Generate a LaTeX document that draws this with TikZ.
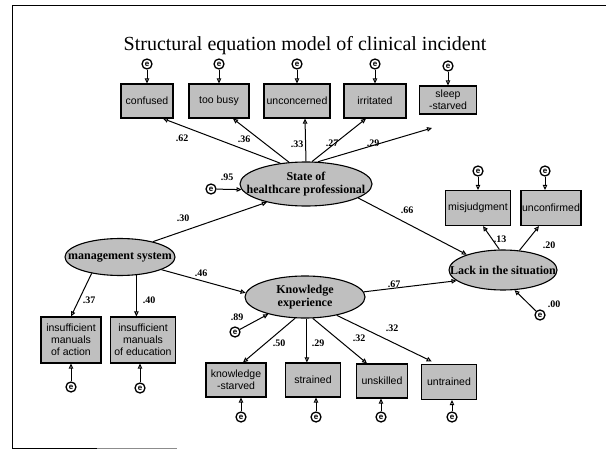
\documentclass[tikz,border=0pt]{standalone}
\usepackage{fontspec}
\setmainfont{Liberation Serif}
\newfontfamily\boxfont{Liberation Sans}
\usetikzlibrary{shapes.geometric,arrows.meta}
\begin{document}
\begin{tikzpicture}[x=1pt,y=-1pt,
  box/.style={draw,line width=1.2pt,fill=black!25,inner sep=1pt,align=center,
    font=\boxfont\fontsize{10.5}{12}\selectfont},
  ell/.style={draw,ellipse,line width=1.1pt,fill=black!25,inner sep=0pt},
  elltext/.style={align=center,font=\bfseries\fontsize{12}{13.5}\selectfont,inner sep=0pt},
  err/.style={draw,circle,line width=1.3pt,minimum size=10pt,inner sep=0pt,
    font=\boxfont\bfseries\fontsize{8}{8}\selectfont},
  coef/.style={font=\bfseries\fontsize{10}{11}\selectfont,inner sep=0pt},
  arr/.style={line width=1pt,-{Triangle[open,length=5pt,width=4.5pt]}},
  frame/.style={line width=0.9pt}
]
\useasboundingbox (0,0) rectangle (606,450);
\fill[white] (0,0) rectangle (606,450);
% frame
\draw[frame] (12,448) -- (12,5) -- (606,5);
\draw[frame] (12,448) -- (97,448);
\draw[frame,black!45] (97,448) -- (177,448);

% title
\node[font=\fontsize{20}{22}\selectfont,anchor=base,inner sep=0pt] (title) at (305,50)
  {Structural equation model of clinical incident};

% top boxes
\node[box,minimum width=52pt,minimum height=34pt] (confused) at (147,101) {confused};
\node[box,minimum width=60pt,minimum height=34pt] (toobusy) at (219,101) {too busy};
\node[box,minimum width=66pt,minimum height=34pt] (unconcerned) at (297,101) {unconcerned};
\node[box,minimum width=62pt,minimum height=34pt] (irritated) at (375,101) {irritated};
\node[box,minimum width=57pt,minimum height=28pt] (sleep) at (448,100) {sleep\\-starved};

% right boxes
\node[box,minimum width=65pt,minimum height=35pt] (misjudg) at (478,208) {misjudgment};
\node[box,minimum width=60pt,minimum height=35pt] (unconf) at (551,208) {unconfirmed};

% left boxes
\node[box,minimum width=60pt,minimum height=46pt] (ins1) at (71,340) {insufficient\\manuals\\of action};
\node[box,minimum width=65pt,minimum height=46pt] (ins2) at (143,340) {insufficient\\manuals\\of education};

% bottom boxes
\node[box,minimum width=60pt,minimum height=34pt] (kstarved) at (236,380) {knowledge\\-starved};
\node[box,minimum width=55pt,minimum height=34pt] (strained) at (313,380) {strained};
\node[box,minimum width=51pt,minimum height=34pt] (unskilled) at (382,381) {unskilled};
\node[box,minimum width=55pt,minimum height=35pt] (untrained) at (449,382) {untrained};

% ellipses
\node[ell,minimum width=132pt,minimum height=44pt] (state) at (306,184) {};
\node[elltext] (statet) at (state) {State of\\healthcare professional};
\node[ell,minimum width=110pt,minimum height=37pt] (mgmt) at (120,257) {};
\node[elltext] (mgmtt) at (mgmt) {management system};
\node[ell,minimum width=120pt,minimum height=42pt] (know) at (305,297) {};
\node[elltext] (knowt) at (know) {Knowledge\\experience};
\node[ell,minimum width=108pt,minimum height=40pt] (lack) at (503,270) {};
\node[elltext] (lackt) at (lack) {Lack in the situation};

% error terms
\node[err] (e1) at (147,64) {e};
\node[err] (e2) at (219,64) {e};
\node[err] (e3) at (297,64) {e};
\node[err] (e4) at (375,64) {e};
\node[err] (e5) at (448,66) {e};
\node[err] (e6) at (478,171) {e};
\node[err] (e7) at (545,171) {e};
\node[err] (e8) at (71,387) {e};
\node[err] (e9) at (140,388) {e};
\node[err] (e10) at (241,417) {e};
\node[err] (e11) at (316,417) {e};
\node[err] (e12) at (381,417) {e};
\node[err] (e13) at (452,417) {e};
\node[err] (es) at (211,189) {e};
\node[err] (ek) at (235,332) {e};
\node[err] (el) at (540,315) {e};

\foreach \e/\b in {e1/confused,e2/toobusy,e3/unconcerned,e4/irritated,e5/sleep,e6/misjudg,e7/unconf}
  \draw[arr] (\e) -- (\e |- \b.north);
\foreach \e/\b in {e8/ins1,e9/ins2,e10/kstarved,e11/strained,e12/unskilled,e13/untrained}
  \draw[arr] (\e) -- (\e |- \b.south);

% state -> top boxes
\coordinate (sleeptip) at (432,128);
\draw[arr] (state.141) -- ([xshift=16pt]confused.south);
\draw[arr] (state.128) -- ([xshift=14pt]toobusy.south);
\draw[arr] (state.north) -- ([xshift=8pt]unconcerned.south);
\draw[arr] (state.75) -- ([xshift=-9pt]irritated.south);
\draw[arr] (state.62) -- (sleeptip);
\node[coef] (c62) at (182,138) {.62};
\node[coef] (c36) at (244,139) {.36};
\node[coef] (c33) at (297,144) {.33};
\node[coef] (c27) at (332,143) {.27};
\node[coef] (c29) at (373,143) {.29};

% error into state
\draw[arr] (es) -- (state.185);
\node[coef] (c95) at (227,177) {.95};

% management
\draw[arr] (mgmt.25) -- (state.205);
\node[coef] (c30) at (183,218) {.30};
\draw[arr] (mgmt.-17) -- (know.176);
\node[coef] (c46) at (201,273) {.46};
\draw[arr] (mgmt.-150) -- (ins1.north);
\node[coef] (c37) at (89,300) {.37};
\draw[arr] (mgmt.-48) -- (mgmt.-48 |- ins2.north);
\node[coef] (c40) at (149,300) {.40};

% knowledge
\draw[arr] (ek) -- (know.205);
\node[coef] (c89) at (237,317) {.89};
\draw[arr] (know.-115) -- ([xshift=7pt]kstarved.north);
\node[coef] (c50) at (279,343) {.50};
\draw[arr] (know.-85) -- (know.-85 |- strained.north);
\node[coef] (c29b) at (318,343) {.29};
\draw[arr] (know.-70) -- ([xshift=-15pt]unskilled.north);
\node[coef] (c32a) at (359,338) {.32};
\draw[arr,shorten >=6pt] (know.-30) -- ([xshift=-12pt]untrained.north);
\node[coef] (c32b) at (392,328) {.32};
\draw[arr] (know.5) -- (lack.193);
\node[coef] (c67) at (394,284) {.67};

% state -> lack
\draw[arr] (state.-15) -- (lack.157);
\node[coef] (c66) at (407,210) {.66};

% lack
\draw[arr] (el) -- (lack.-60);
\node[coef] (c00) at (554,304) {.00};
\draw[arr] (lack.100) -- ([xshift=5pt]misjudg.south);
\node[coef] (c13) at (500,239) {.13};
\draw[arr] (lack.50) -- ([xshift=-12pt]unconf.south);
\node[coef] (c20) at (549,245) {.20};
\end{tikzpicture}
\end{document}
